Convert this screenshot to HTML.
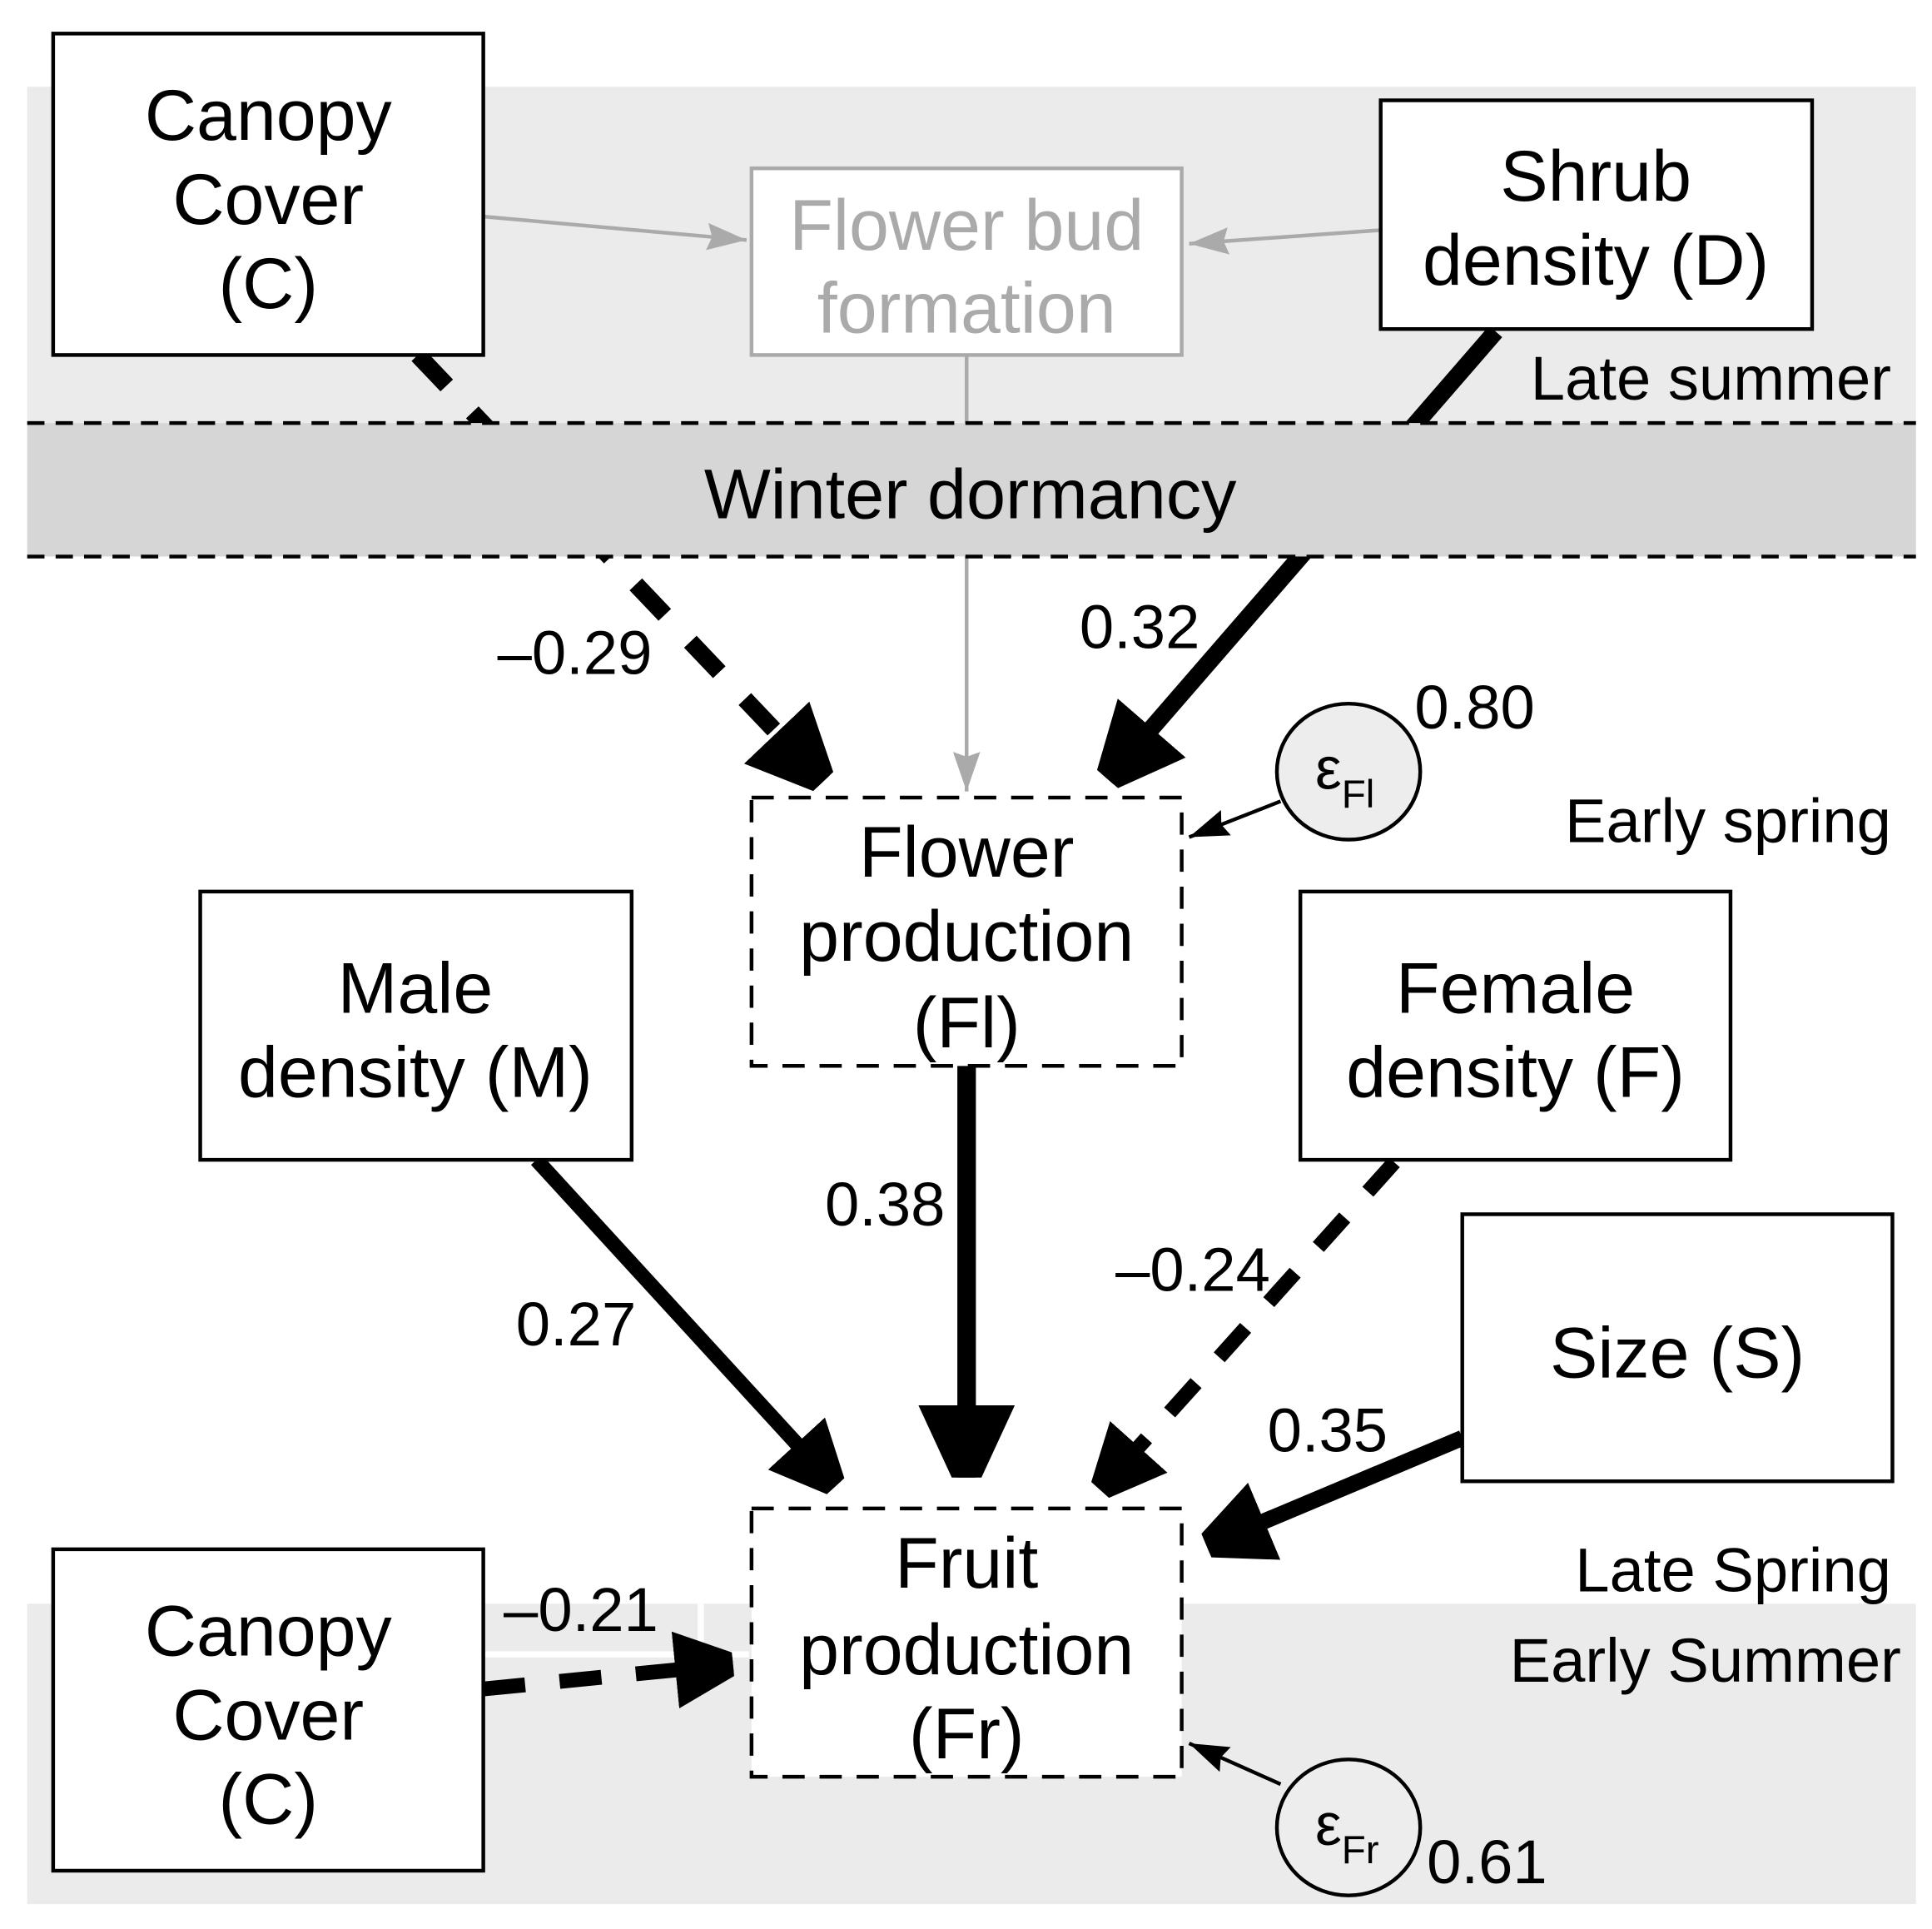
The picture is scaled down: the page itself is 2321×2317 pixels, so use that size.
<!DOCTYPE html>
<html><head><meta charset="utf-8"><style>
html,body{margin:0;padding:0;background:#fff;}
svg{display:block;}
text{font-family:"Liberation Sans",sans-serif;}
</style></head><body>
<svg width="2321" height="2317" viewBox="0 0 1563 1560" xmlns="http://www.w3.org/2000/svg">
<defs>
<marker id="big" markerUnits="strokeWidth" viewBox="0 -3 4 6" refX="3.9" refY="0" markerWidth="4" markerHeight="6" orient="auto">
<polygon points="0,-2.6 3.9,-0.8 3.9,0.8 0,2.6" fill="#000"/>
</marker>
<marker id="thin" markerUnits="userSpaceOnUse" viewBox="0 -12 32 24" refX="32" refY="0" markerWidth="32" markerHeight="24" orient="auto">
<polygon points="0,-11 32,0 0,11 4,0" fill="#000"/>
</marker>
<marker id="gthin" markerUnits="userSpaceOnUse" viewBox="0 -12 32 24" refX="32" refY="0" markerWidth="32" markerHeight="24" orient="auto">
<polygon points="0,-11 32,0 0,11 4,0" fill="#aaa"/>
</marker>
</defs>
<rect width="1563" height="1560" fill="#fff"/>
<!-- bands -->
<rect x="22" y="70" width="1528" height="272" fill="#ebebeb"/>
<rect x="22" y="1297" width="1528" height="243" fill="#ebebeb"/>
<line x1="391" y1="1338" x2="606" y2="1338" stroke="#fff" stroke-width="5"/>
<line x1="567" y1="1297" x2="567" y2="1338" stroke="#fff" stroke-width="5"/>

<!-- gray flows -->
<line x1="391" y1="175" x2="604" y2="194" stroke="#aaa" stroke-width="3" marker-end="url(#gthin)"/>
<line x1="1117" y1="186" x2="962" y2="197" stroke="#aaa" stroke-width="3" marker-end="url(#gthin)"/>
<line x1="782" y1="287" x2="782" y2="640" stroke="#aaa" stroke-width="3" marker-end="url(#gthin)"/>

<!-- thick paths -->
<line x1="338" y1="287" x2="666" y2="632" stroke="#000" stroke-width="14" stroke-dasharray="34,30" marker-end="url(#big)"/>
<line x1="1210" y1="268" x2="896" y2="630" stroke="#000" stroke-width="14" marker-end="url(#big)"/>

<!-- winter band over lines -->
<rect x="22" y="342" width="1528" height="108" fill="#d6d6d6"/>
<line x1="22" y1="342" x2="1550" y2="342" stroke="#000" stroke-width="3" stroke-dasharray="14,9"/>
<line x1="22" y1="450" x2="1550" y2="450" stroke="#000" stroke-width="3" stroke-dasharray="14,9"/>
<text x="785" y="419" font-size="57" text-anchor="middle">Winter dormancy</text>

<line x1="782" y1="862" x2="782" y2="1195" stroke="#000" stroke-width="15" marker-end="url(#big)"/>
<line x1="434" y1="938" x2="676" y2="1202" stroke="#000" stroke-width="12" marker-end="url(#big)"/>
<line x1="1128" y1="940" x2="890" y2="1205" stroke="#000" stroke-width="12" stroke-dasharray="32,28" marker-end="url(#big)"/>
<line x1="1183" y1="1163" x2="976" y2="1250" stroke="#000" stroke-width="13" marker-end="url(#big)"/>
<line x1="391" y1="1366" x2="593" y2="1346" stroke="#000" stroke-width="12" stroke-dasharray="34,28" marker-end="url(#big)"/>

<g font-size="50">
<text x="1530" y="323" text-anchor="end">Late summer</text>
<text x="1530" y="681" text-anchor="end">Early spring</text>
<text x="1530" y="1287" text-anchor="end">Late Spring</text>
<text x="1538" y="1360" text-anchor="end">Early Summer</text>
<text x="465" y="545" text-anchor="middle">–0.29</text>
<text x="922" y="524" text-anchor="middle">0.32</text>
<text x="1193" y="589" text-anchor="middle">0.80</text>
<text x="716" y="991" text-anchor="middle">0.38</text>
<text x="466" y="1088" text-anchor="middle">0.27</text>
<text x="965" y="1044" text-anchor="middle">–0.24</text>
<text x="1074" y="1174" text-anchor="middle">0.35</text>
<text x="470" y="1319" text-anchor="middle">–0.21</text>
<text x="1203" y="1523" text-anchor="middle">0.61</text>
</g>

<!-- error terms -->
<line x1="1036" y1="648" x2="962" y2="677" stroke="#000" stroke-width="3" marker-end="url(#thin)"/>
<ellipse cx="1091" cy="624" rx="58" ry="55" fill="#ededed" stroke="#000" stroke-width="3"/>
<text x="1064" y="638" font-size="48">ε<tspan font-size="32" dy="15">Fl</tspan></text>
<line x1="1036" y1="1443" x2="962" y2="1410" stroke="#000" stroke-width="3" marker-end="url(#thin)"/>
<ellipse cx="1091" cy="1478" rx="58" ry="55" fill="#ededed" stroke="#000" stroke-width="3"/>
<text x="1064" y="1492" font-size="48">ε<tspan font-size="32" dy="15">Fr</tspan></text>

<!-- boxes -->
<g fill="#fff" stroke="#000" stroke-width="3">
<rect x="43" y="27" width="348" height="260"/>
<rect x="1117" y="81" width="349" height="185"/>
<rect x="162" y="721" width="349" height="217"/>
<rect x="1052" y="721" width="348" height="217"/>
<rect x="1183" y="982" width="348" height="216"/>
<rect x="43" y="1253" width="348" height="260"/>
</g>
<rect x="608" y="136" width="348" height="151" fill="#fff" stroke="#aaa" stroke-width="3"/>
<g fill="#fff" stroke="#000" stroke-width="3" stroke-dasharray="18,12">
<rect x="608" y="645" width="348" height="217"/>
<rect x="608" y="1220" width="348" height="217"/>
</g>

<g font-size="58" text-anchor="middle">
<text x="217" y="113">Canopy</text><text x="217" y="181">Cover</text><text x="217" y="249">(C)</text>
<text x="1291" y="162">Shrub</text><text x="1291" y="230">density (D)</text>
<text x="336" y="819">Male</text><text x="336" y="887">density (M)</text>
<text x="1226" y="819">Female</text><text x="1226" y="887">density (F)</text>
<text x="1357" y="1114">Size (S)</text>
<text x="782" y="709">Flower</text><text x="782" y="777">production</text><text x="782" y="847">(Fl)</text>
<text x="782" y="1284">Fruit</text><text x="782" y="1354">production</text><text x="782" y="1422">(Fr)</text>
<text x="217" y="1339">Canopy</text><text x="217" y="1407">Cover</text><text x="217" y="1475">(C)</text>
<g fill="#aaa"><text x="782" y="202">Flower bud</text><text x="782" y="269">formation</text></g>
</g>
</svg>
</body></html>
